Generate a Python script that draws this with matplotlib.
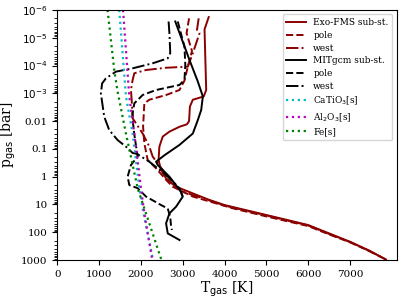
import matplotlib
matplotlib.use('Agg')
import matplotlib.pyplot as plt

plt.rcParams['font.family'] = 'DejaVu Serif'

# Exo-FMS profiles (T in K, p in bar)
fms_sub_T = [3620, 3520, 3540, 3560, 3500, 3240, 3170, 3150, 3100, 2920, 2680, 2520,
             2440, 2420, 2480, 2600, 2840, 3240, 3640, 4000, 5000, 6000, 6500, 7000, 7450, 7860]
fms_sub_p = [1.8e-6, 5.0e-6, 6.3e-5, 7.6e-4, 1.3e-3, 1.7e-3, 3.0e-3, 1.0e-2, 1.3e-2, 1.6e-2, 2.4e-2, 3.6e-2,
             8.3e-2, 0.25, 0.58, 1.15, 2.3, 4.0, 6.9, 10.5, 24, 55, 110, 220, 450, 960]

fms_pole_T = [3150, 3090, 3220, 3120, 3040, 2920, 2600, 2200, 2080, 2050, 2080, 2160,
              2360, 2600, 2760, 3240, 4200, 5000, 6000, 6500, 7000, 7450, 7860]
fms_pole_p = [2.0e-6, 6.9e-6, 3.0e-5, 1.1e-4, 3.5e-4, 7.6e-4, 1.15e-3, 1.7e-3, 2.3e-3, 1.6e-2, 6.3e-2, 0.25,
              0.5, 1.3, 2.3, 5.2, 13.8, 27, 60, 120, 230, 470, 960]

fms_west_T = [3380, 3340, 3400, 3240, 3120, 2600, 2120, 1840, 1800, 1760, 1780, 1800,
              2040, 2200, 2280, 2520, 2680, 3000, 3640, 4000, 5000, 6000, 6500, 7000, 7450, 7860]
fms_west_p = [2.0e-6, 5.2e-6, 6.9e-6, 3.6e-5, 1.1e-4, 1.2e-4, 1.45e-4, 1.9e-4, 3.3e-4, 7.6e-4, 2.0e-3, 7.9e-3,
              2.8e-2, 8.3e-2, 0.19, 0.58, 1.5, 3.5, 7.2, 11, 25, 57, 115, 225, 460, 960]

# MITgcm profiles
mit_sub_T = [2820, 3160, 3360, 3480, 3440, 3360, 3240, 2920, 2560, 2360, 2400, 2680,
             2960, 3000, 2840, 2680, 2600, 2640, 2920]
mit_sub_p = [2.6e-6, 6.3e-5, 3.8e-4, 1.3e-3, 4.0e-3, 9.1e-3, 2.8e-2, 7.2e-2, 0.17, 0.29, 0.38, 1.0,
             3.5, 5.2, 12, 21, 48, 110, 190]

mit_pole_T = [2880, 3040, 3060, 3040, 2920, 2360, 2040, 1840, 1800, 1800, 1840, 1920,
              1760, 1680, 1720, 1920, 2120, 2480, 2640, 2700, 2720, 2740]
mit_pole_p = [2.6e-6, 2.1e-5, 9.5e-5, 3.3e-4, 5.0e-4, 7.6e-4, 1.15e-3, 2.3e-3, 5.2e-3, 9.1e-3, 3.0e-2, 0.19,
              0.38, 1.0, 2.0, 2.6, 5.2, 10.5, 14, 28, 63, 83]

mit_west_T = [2660, 2680, 2700, 2640, 2280, 1800, 1400, 1160, 1070, 1040, 1120, 1240,
              1440, 1640, 1800, 1900, 2200, 2600, 2920, 2990]
mit_west_p = [2.6e-6, 6.9e-6, 3.6e-5, 5.5e-5, 8.3e-5, 1.26e-4, 1.66e-4, 2.9e-4, 4.4e-4, 1.0e-3, 6.9e-3, 2.1e-2,
              4.8e-2, 8.3e-2, 0.14, 0.15, 0.29, 0.87, 2.6, 5.0]

# condensation curves
cond_p = [1e-6, 1.3e-3, 2.8e-2, 2.6, 21, 1000]
catio3_T = [1480, 1640, 1800, 1960, 2060, 2290]
al2o3_T = [1570, 1720, 1840, 2000, 2080, 2270]
fe_p = [1e-6, 1.45e-4, 8.7e-4, 2.8e-2, 2.6, 1000]
fe_T = [1200, 1360, 1440, 1640, 1920, 2490]

ytick_vals = [1e-6, 1e-5, 1e-4, 1e-3, 1e-2, 1e-1, 1, 10, 100, 1000]
ytick_labels = [r'$10^{-6}$', r'$10^{-5}$', r'$10^{-4}$', r'$10^{-3}$',
                '0.01', '0.1', '1', '10', '100', '1000']

red = '#8b0000'
lw = 1.4

fig = plt.figure(figsize=(4.07, 3.02), dpi=100)
ax = fig.add_axes([0.141, 0.139, 0.834, 0.828])

ax.plot(fms_sub_T, fms_sub_p, color=red, ls='-', lw=lw, label='Exo-FMS sub-st.')
ax.plot(fms_pole_T, fms_pole_p, color=red, ls='--', lw=lw, label='pole')
ax.plot(fms_west_T, fms_west_p, color=red, ls='-.', lw=lw, label='west')
ax.plot(mit_sub_T, mit_sub_p, color='k', ls='-', lw=lw, label='MITgcm sub-st.')
ax.plot(mit_pole_T, mit_pole_p, color='k', ls='--', lw=lw, label='pole')
ax.plot(mit_west_T, mit_west_p, color='k', ls='-.', lw=lw, label='west')
ax.plot(catio3_T, cond_p, color='c', ls=':', lw=1.6, label=r'CaTiO$_3$[s]')
ax.plot(al2o3_T, cond_p, color='m', ls=':', lw=1.6, label=r'Al$_2$O$_3$[s]')
ax.plot(fe_T, fe_p, color='g', ls=':', lw=1.6, label='Fe[s]')

ax.set_yscale('log')
ax.set_ylim(1000, 1e-6)
ax.set_xlim(0, 8120)
ax.set_yticks(ytick_vals)
ax.set_yticklabels(ytick_labels)
ax.set_xticks(range(0, 8000, 1000))
ax.tick_params(labelsize=7.5)

ax.set_xlabel(r'T$_{\rm gas}$ [K]', fontsize=10, labelpad=1)
ax.set_ylabel(r'p$_{\rm gas}$ [bar]', fontsize=10, labelpad=2)

ax.legend(loc='upper right', fontsize=6.5, handlelength=2.2, labelspacing=0.42)

fig.savefig('out.png', dpi=100)
